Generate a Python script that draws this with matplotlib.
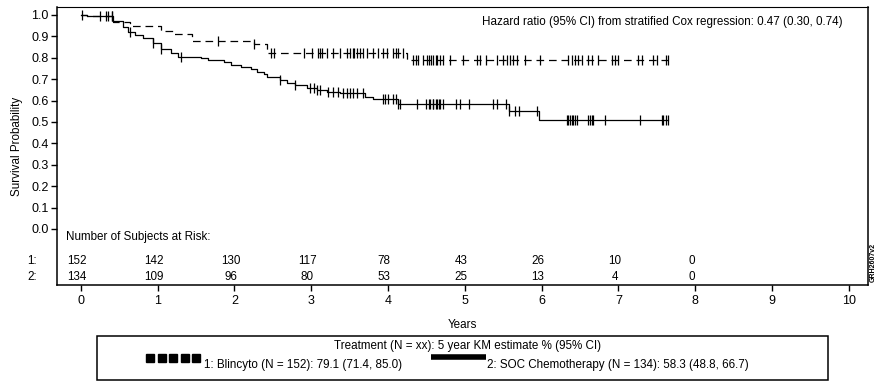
import numpy as np
import matplotlib.pyplot as plt

plt.rcParams['font.family'] = ['Liberation Sans', 'DejaVu Sans']
plt.rcParams['lines.scale_dashes'] = False

# ---- data ----
years = [0, 1, 2, 3, 4, 5, 6, 7, 8, 9, 10]
prob_ticks = [0.0, 0.1, 0.2, 0.3, 0.4, 0.5, 0.6, 0.7, 0.8, 0.9, 1.0]
risk_1 = [152, 142, 130, 117, 78, 43, 26, 10, 0]
risk_2 = [134, 109, 96, 80, 53, 25, 13, 4, 0]

# Blincyto (dashed): event times and survival after each event
ev_t1 = [0.08, 0.42, 0.64, 1.04, 1.20, 1.45, 2.25, 2.43, 4.25]
ev_s1 = [0.993, 0.967, 0.949, 0.925, 0.910, 0.877, 0.862, 0.824, 0.788]
cen_t1 = [0.02, 0.25, 0.33, 0.41, 1.78, 2.25, 2.47, 2.51, 2.90, 3.01, 3.09, 3.12,
          3.14, 3.21, 3.29, 3.38, 3.47, 3.51, 3.54, 3.56, 3.60, 3.64, 3.68, 3.73,
          3.81, 3.87, 3.94, 3.99, 4.06, 4.10, 4.13, 4.20, 4.32, 4.36, 4.39, 4.45,
          4.51, 4.54, 4.56, 4.59, 4.62, 4.64, 4.68, 4.72, 4.81, 4.97, 5.16, 5.20,
          5.27, 5.42, 5.50, 5.55, 5.59, 5.63, 5.68, 5.79, 5.98, 6.35, 6.40, 6.44,
          6.48, 6.53, 6.61, 6.65, 6.74, 6.92, 6.96, 7.00, 7.26, 7.31, 7.45, 7.50,
          7.62, 7.65]

# SOC chemotherapy (solid)
ev_t2 = [0.08, 0.42, 0.55, 0.62, 0.71, 0.81, 0.94, 1.04, 1.17, 1.26, 1.56, 1.65,
         1.86, 1.95, 2.08, 2.21, 2.30, 2.38, 2.43, 2.60, 2.69, 2.79, 2.95, 3.08,
         3.21, 3.38, 3.70, 3.80, 4.13, 5.57, 5.96]
ev_s2 = [0.993, 0.970, 0.945, 0.922, 0.907, 0.891, 0.868, 0.840, 0.824, 0.805,
         0.798, 0.790, 0.779, 0.766, 0.758, 0.748, 0.735, 0.725, 0.712, 0.696,
         0.683, 0.673, 0.660, 0.650, 0.642, 0.634, 0.618, 0.607, 0.583, 0.552,
         0.510]
cen_t2 = [0.35, 0.41, 0.64, 0.94, 1.04, 1.30, 2.60, 2.79, 2.99, 3.03, 3.08, 3.12,
          3.22, 3.29, 3.35, 3.42, 3.47, 3.51, 3.55, 3.60, 3.67, 3.93, 3.96, 4.00,
          4.06, 4.10, 4.13, 4.16, 4.38, 4.49, 4.53, 4.55, 4.58, 4.59, 4.62, 4.64,
          4.66, 4.68, 4.71, 4.88, 4.94, 5.05, 5.37, 5.42, 5.53, 5.57, 5.66, 5.70,
          5.94, 6.33, 6.35, 6.37, 6.40, 6.41, 6.43, 6.46, 6.61, 6.63, 6.66, 6.67,
          6.83, 7.28, 7.57, 7.58, 7.62, 7.65]

hr_text = "Hazard ratio (95% CI) from stratified Cox regression: 0.47 (0.30, 0.74)"
leg_title = "Treatment (N = xx): 5 year KM estimate % (95% CI)"
leg_1 = "1: Blincyto (N = 152): 79.1 (71.4, 85.0)"
leg_2 = "2: SOC Chemotherapy (N = 134): 58.3 (48.8, 66.7)"

FS = 8.4


def km_curve(ax, ev_t, ev_s, cen_t, end_t, **kw):
    xs = np.r_[0.0, ev_t, end_t]
    ys = np.r_[1.0, ev_s, ev_s[-1]]
    ax.step(xs, ys, where='post', color='black', lw=0.9, **kw)
    # survival level at each censor time
    idx = np.searchsorted(np.asarray(ev_t), np.asarray(cen_t), side='right')
    cy = np.r_[1.0, ev_s][idx]
    ax.plot(cen_t, cy, ls='none', marker='|', ms=7.5, mew=0.9, color='black')


fig = plt.figure(figsize=(8.81, 3.84), dpi=100)
ax = fig.add_axes([57 / 881, 1 - 285 / 384, (868 - 57) / 881, (285 - 7) / 384])

end_t = max(cen_t1[-1], cen_t2[-1])
km_curve(ax, ev_t1, ev_s1, cen_t1, end_t, dashes=(5.5, 3.5))
km_curve(ax, ev_t2, ev_s2, cen_t2, end_t)

ax.set_xlim(-0.31, 10.25)
ax.set_ylim(-0.262, 1.037)
ax.set_xticks(years)
ax.set_yticks(prob_ticks)
ax.set_yticklabels([f"{v:.1f}" for v in prob_ticks])
ax.tick_params(direction='out', length=4, width=1, labelsize=9, pad=2)
ax.tick_params(axis='x', pad=3)
for s in ax.spines.values():
    s.set_linewidth(1.1)
ax.spines['top'].set_linewidth(0.8)

ax.set_ylabel("Survival Probability", fontsize=FS, labelpad=6)
ax.set_xlabel("Years", fontsize=FS, labelpad=9)

ax.text(0.968, 0.966, hr_text, transform=ax.transAxes, ha='right', va='top', fontsize=FS)

# at-risk table inside the axes
ax.text(-0.19, -0.037, "Number of Subjects at Risk:", ha='left', va='center', fontsize=FS)
for row, (lab, vals) in enumerate([("1:", risk_1), ("2:", risk_2)]):
    yy = -0.150 - row * 0.074
    ax.text(-0.70, yy, lab, ha='left', va='center', fontsize=FS, clip_on=False)
    for x, v in zip(years, vals):
        ax.text(x - 0.05, yy, str(v), ha='center', va='center', fontsize=FS)

fig.text(873 / 881, 1 - 262 / 384, "GRH2607v2", rotation=90, ha='center', va='center',
         fontsize=5, fontweight='bold')

# legend box drawn in pixel space of the figure
lg = fig.add_axes([0, 0, 1, 1], facecolor='none')
lg.set_xlim(0, 881)
lg.set_ylim(384, 0)
lg.axis('off')
lg.add_patch(plt.Rectangle((97, 336), 731, 44, fill=False, lw=1.1, ec='black'))
lg.text(468, 346, leg_title, ha='center', va='center', fontsize=FS)
lg.plot(np.linspace(150, 196, 5), [358] * 5, ls='none', marker='s', ms=5.2, color='black')
lg.text(204, 365, leg_1, ha='left', va='center', fontsize=FS)
lg.plot([431, 486], [357, 357], color='black', lw=4, solid_capstyle='butt')
lg.text(487, 365, leg_2, ha='left', va='center', fontsize=FS)

fig.savefig("out.png", dpi=100)
